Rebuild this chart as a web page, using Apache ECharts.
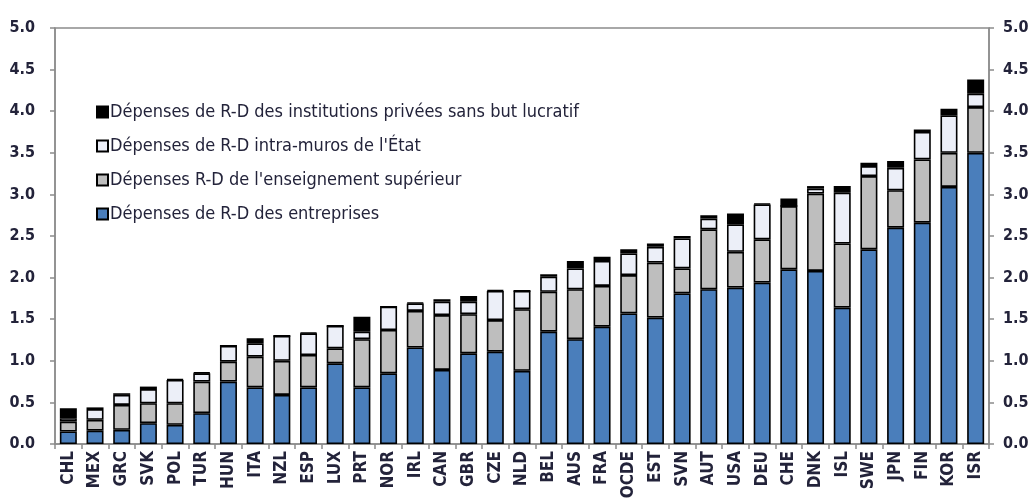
<!DOCTYPE html>
<html>
<head>
<meta charset="utf-8">
<script src="https://cdn.jsdelivr.net/npm/echarts@6/dist/echarts.min.js"></script>
<style>
  html, body { margin: 0; padding: 0; background: #ffffff; }
  #chart { width: 1036px; height: 504px; }
</style>
</head>
<body>
<div id="chart"></div>
<script>
// Dépenses intérieures brutes de R-D par secteur d'exécution, en % du PIB
const countries = ['CHL','MEX','GRC','SVK','POL','TUR','HUN','ITA','NZL','ESP','LUX','PRT','NOR','IRL','CAN','GBR','CZE','NLD','BEL','AUS','FRA','OCDE','EST','SVN','AUT','USA','DEU','CHE','DNK','ISL','SWE','JPN','FIN','KOR','ISR'];

const entreprises = [0.15,0.16,0.17,0.25,0.23,0.37,0.75,0.68,0.59,0.68,0.97,0.68,0.85,1.16,0.89,1.09,1.11,0.88,1.35,1.26,1.41,1.57,1.52,1.81,1.86,1.88,1.94,2.10,2.08,1.64,2.34,2.60,2.66,3.09,3.50];
const superieur   = [0.12,0.13,0.30,0.24,0.26,0.38,0.24,0.37,0.41,0.39,0.18,0.58,0.52,0.44,0.66,0.47,0.38,0.74,0.48,0.60,0.49,0.46,0.66,0.30,0.72,0.43,0.52,0.76,0.93,0.77,0.88,0.45,0.76,0.41,0.55];
const etat        = [0.04,0.13,0.12,0.17,0.28,0.10,0.19,0.16,0.30,0.26,0.27,0.09,0.28,0.09,0.16,0.15,0.35,0.22,0.18,0.25,0.30,0.26,0.19,0.36,0.13,0.33,0.42,0.00,0.06,0.61,0.12,0.27,0.33,0.45,0.16];
const privees     = [0.12,0.02,0.02,0.03,0.01,0.01,0.00,0.06,0.00,0.01,0.00,0.18,0.00,0.01,0.03,0.07,0.01,0.00,0.03,0.09,0.05,0.05,0.04,0.03,0.04,0.13,0.01,0.09,0.03,0.08,0.04,0.08,0.03,0.08,0.17];

const yTicks = ['0.0','0.5','1.0','1.5','2.0','2.5','3.0','3.5','4.0','4.5','5.0'];

const names = {
  privees: 'Dépenses de R-D des institutions privées sans but lucratif',
  etat: "Dépenses de R-D intra-muros de l'État",
  superieur: "Dépenses R-D de l'enseignement supérieur",
  entreprises: 'Dépenses de R-D des entreprises'
};

const NARROW = '"Liberation Sans Narrow", "Arial Narrow", "DejaVu Sans Condensed", sans-serif';
const TEXT = '#23233a';
const AXIS = '#8c8c8c';

function barSeries(name, data, color) {
  return {
    name: name,
    type: 'bar',
    stack: 'rd',
    data: data,
    barWidth: 17,
    itemStyle: { color: color, borderColor: '#000000', borderWidth: 1.6 },
    emphasis: { disabled: true }
  };
}

const yAxisBase = {
  type: 'value', min: 0, max: 5, interval: 0.5,
  axisLine: { show: true, lineStyle: { color: AXIS, width: 1.5 } },
  axisTick: { show: true, length: 5, lineStyle: { color: AXIS, width: 1.5 } },
  splitLine: { show: false },
  axisLabel: {
    formatter: v => yTicks[Math.round(v / 0.5)],
    color: TEXT, fontFamily: NARROW, fontSize: 16, fontWeight: 'bold'
  }
};

const chart = echarts.init(document.getElementById('chart'), null, { renderer: 'canvas' });
chart.setOption({
  animation: false,
  backgroundColor: '#ffffff',
  grid: { left: 55, right: 47, top: 28, bottom: 60, show: true, borderColor: AXIS, borderWidth: 1.5, backgroundColor: 'transparent' },
  legend: {
    orient: 'vertical',
    left: 91, top: 98,
    itemWidth: 11, itemHeight: 11, itemGap: 16,
    icon: 'rect',
    selectedMode: false,
    data: [names.privees, names.etat, names.superieur, names.entreprises],
    textStyle: { color: TEXT, fontFamily: NARROW, fontSize: 18, padding: [0, 0, 0, -3] }
  },
  xAxis: {
    type: 'category',
    data: countries,
    boundaryGap: true,
    axisLine: { show: true, lineStyle: { color: AXIS, width: 1.5 } },
    axisTick: { show: true, alignWithLabel: false, length: 5, lineStyle: { color: AXIS, width: 1.5 } },
    axisLabel: { rotate: 90, interval: 0, margin: 7, color: TEXT, fontFamily: NARROW, fontSize: 17, fontWeight: 'bold' }
  },
  yAxis: [
    Object.assign({}, yAxisBase, { position: 'left', axisLabel: Object.assign({}, yAxisBase.axisLabel, { margin: 20 }) }),
    Object.assign({}, yAxisBase, { position: 'right', axisLabel: Object.assign({}, yAxisBase.axisLabel, { margin: 14 }) })
  ],
  series: [
    barSeries(names.entreprises, entreprises, '#4a7ebb'),
    barSeries(names.superieur, superieur, '#bebebe'),
    barSeries(names.etat, etat, '#eceff8'),
    barSeries(names.privees, privees, '#000000')
  ]
});
</script>
</body>
</html>
